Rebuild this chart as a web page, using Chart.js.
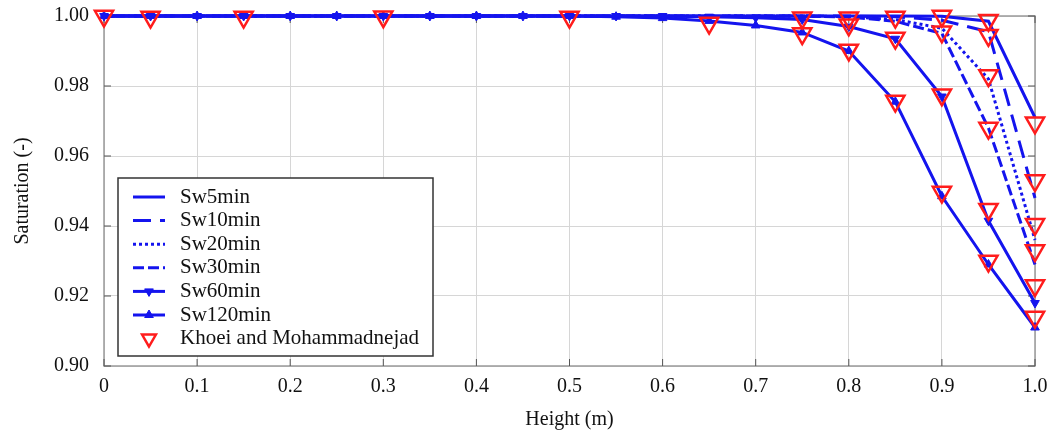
<!DOCTYPE html>
<html>
<head>
<meta charset="utf-8">
<script src="https://cdn.jsdelivr.net/npm/chart.js@4"></script>
<style>
  html, body { margin: 0; padding: 0; background: #fff; }
  #wrap { width: 1053px; height: 437px; }
</style>
</head>
<body>
<div id="wrap"><canvas id="satChart"></canvas></div>
<script>
// Altura (m) de los puntos del modelo
const heights = [0, 0.05, 0.1, 0.15, 0.2, 0.25, 0.3, 0.35, 0.4, 0.45, 0.5,
                 0.55, 0.6, 0.65, 0.7, 0.75, 0.8, 0.85, 0.9, 0.95, 1.0];

// Saturación simulada para cada tiempo
const sw5min   = [1, 1, 1, 1, 1, 1, 1, 1, 1, 1, 1, 1, 1, 1, 1, 1, 1, 1, 0.9999, 0.9985, 0.971];
const sw10min  = [1, 1, 1, 1, 1, 1, 1, 1, 1, 1, 1, 1, 1, 1, 1, 1, 1, 0.9998, 0.9988, 0.9955, 0.948];
const sw20min  = [1, 1, 1, 1, 1, 1, 1, 1, 1, 1, 1, 1, 1, 1, 1, 1, 0.9998, 0.999, 0.9965, 0.982, 0.936];
const sw30min  = [1, 1, 1, 1, 1, 1, 1, 1, 1, 1, 1, 1, 1, 1, 1, 1, 0.9997, 0.9985, 0.995, 0.968, 0.929];
const sw60min  = [1, 1, 1, 1, 1, 1, 1, 1, 1, 1, 1, 1, 1, 0.9998, 0.9995, 0.999, 0.997, 0.9935, 0.977, 0.9415, 0.918];
const sw120min = [1, 1, 1, 1, 1, 1, 1, 1, 1, 1, 1, 0.9998, 0.9994, 0.9986, 0.9973, 0.9953, 0.990, 0.9755, 0.9485, 0.929, 0.911];

// Datos de referencia (Khoei and Mohammadnejad)
const khoeiX = [0, 0.05, 0.15, 0.3, 0.5, 0.65, 0.75, 0.75, 0.8, 0.8, 0.8,
                0.85, 0.85, 0.85, 0.9, 0.9, 0.9, 0.9,
                0.95, 0.95, 0.95, 0.95, 0.95, 0.95,
                1.0, 1.0, 1.0, 1.0, 1.0, 1.0];
const khoeiY = [1.0, 0.9997, 0.9997, 0.9998, 0.9997, 0.998, 0.9995, 0.995, 0.9995, 0.9975, 0.9903,
                0.9997, 0.9937, 0.9757, 1.0, 0.9955, 0.9775, 0.9497,
                0.9988, 0.9945, 0.983, 0.968, 0.9448, 0.930,
                0.9695, 0.953, 0.9405, 0.933, 0.923, 0.914];

// Etiquetas
const seriesNames = ['Sw5min', 'Sw10min', 'Sw20min', 'Sw30min', 'Sw60min', 'Sw120min'];
const refName = 'Khoei and Mohammadnejad';
const xTitle = 'Height (m)';
const yTitle = 'Saturation (-)';

const BLUE = '#1414ee';
const RED = '#ff1c1c';
const FONT = 'Liberation Serif, Times New Roman, serif';

const toPts = (ys) => ys.map((y, i) => ({ x: heights[i], y: y }));

function modelSet(name, ys, dash, marker, rot) {
  return {
    label: name,
    data: toPts(ys),
    showLine: true,
    borderColor: BLUE,
    backgroundColor: BLUE,
    borderWidth: 3,
    borderDash: dash,
    pointStyle: marker || 'circle',
    pointRotation: rot || 0,
    pointRadius: marker ? 5 : 0,
    pointBorderWidth: 1,
    clip: false,
    order: 2
  };
}

const datasets = [
  modelSet(seriesNames[0], sw5min, []),
  modelSet(seriesNames[1], sw10min, [18, 9]),
  modelSet(seriesNames[2], sw20min, [3, 3]),
  modelSet(seriesNames[3], sw30min, [11, 4]),
  modelSet(seriesNames[4], sw60min, [], 'triangle', 180),
  modelSet(seriesNames[5], sw120min, [], 'triangle', 0),
  {
    label: refName,
    data: khoeiX.map((x, i) => ({ x: x, y: khoeiY[i] })),
    showLine: false,
    borderColor: RED,
    backgroundColor: 'rgba(0,0,0,0)',
    pointStyle: 'triangle',
    pointRotation: 180,
    pointRadius: 10.5,
    pointBorderWidth: 2.5,
    clip: false,
    order: 1
  }
];

// Marco, marcas interiores y leyenda dentro del área
const marcoPlugin = {
  id: 'marco',
  beforeDatasetsDraw(chart) {
    const { ctx, chartArea: a, scales } = chart;
    ctx.save();
    ctx.strokeStyle = '#9a9a9a';
    ctx.lineWidth = 1.5;
    ctx.strokeRect(a.left, a.top, a.right - a.left, a.bottom - a.top);
    ctx.strokeStyle = '#555';
    ctx.lineWidth = 1;
    ctx.beginPath();
    scales.x.ticks.forEach((t) => {
      const px = scales.x.getPixelForValue(t.value);
      ctx.moveTo(px, a.bottom); ctx.lineTo(px, a.bottom - 7);
      ctx.moveTo(px, a.top); ctx.lineTo(px, a.top + 7);
    });
    scales.y.ticks.forEach((t) => {
      const py = scales.y.getPixelForValue(t.value);
      ctx.moveTo(a.left, py); ctx.lineTo(a.left + 7, py);
      ctx.moveTo(a.right, py); ctx.lineTo(a.right - 7, py);
    });
    ctx.stroke();
    ctx.restore();
  },
  afterDraw(chart) {
    const { ctx } = chart;
    const box = { x: 118, y: 178, w: 315, h: 178 };
    ctx.save();
    ctx.fillStyle = '#fff';
    ctx.fillRect(box.x, box.y, box.w, box.h);
    ctx.strokeStyle = '#333';
    ctx.lineWidth = 1.5;
    ctx.strokeRect(box.x, box.y, box.w, box.h);
    ctx.font = '21px ' + FONT;
    ctx.textBaseline = 'middle';
    chart.data.datasets.forEach((ds, i) => {
      const y = box.y + 19 + i * 23.6;
      if (ds.showLine) {
        ctx.strokeStyle = ds.borderColor;
        ctx.lineWidth = ds.borderWidth;
        ctx.setLineDash(ds.borderDash);
        ctx.beginPath();
        ctx.moveTo(133, y);
        ctx.lineTo(165, y);
        ctx.stroke();
        ctx.setLineDash([]);
      }
      if (ds.pointRadius > 0) {
        const r = ds.showLine ? ds.pointRadius : 8;
        const rad = ds.pointRotation * Math.PI / 180;
        ctx.strokeStyle = ds.borderColor;
        ctx.fillStyle = ds.backgroundColor;
        ctx.lineWidth = ds.pointBorderWidth;
        ctx.beginPath();
        for (let k = 0; k < 3; k++) {
          const ang = rad - Math.PI / 2 + k * 2 * Math.PI / 3;
          const px = 149 + Math.cos(ang) * r, py = y + Math.sin(ang) * r;
          if (k === 0) ctx.moveTo(px, py); else ctx.lineTo(px, py);
        }
        ctx.closePath();
        ctx.fill();
        ctx.stroke();
      }
      ctx.fillStyle = '#111';
      ctx.fillText(ds.label, 180, y);
    });
    ctx.restore();
  }
};

const chart = new Chart(document.getElementById('satChart').getContext('2d'), {
  type: 'scatter',
  data: { datasets: datasets },
  options: {
    responsive: true,
    maintainAspectRatio: false,
    animation: false,
    layout: { padding: { top: 16, right: 18, left: 0, bottom: 0 } },
    plugins: { legend: { display: false }, tooltip: { enabled: false } },
    scales: {
      x: {
        type: 'linear',
        min: 0, max: 1,
        afterFit: (s) => { s.height = 71; s.paddingLeft = 0; s.paddingRight = 0; },
        grid: { color: '#d6d6d6', drawTicks: false },
        border: { display: false },
        ticks: {
          stepSize: 0.1,
          padding: 9,
          color: '#111',
          font: { family: FONT, size: 20 },
          callback: (v) => (v === 0 ? '0' : Number(v).toFixed(1))
        },
        title: { display: true, text: xTitle, color: '#111', font: { family: FONT, size: 20 }, padding: { top: 4, bottom: 5 } }
      },
      y: {
        min: 0.9, max: 1.0,
        afterFit: (s) => { s.width = 104; s.paddingTop = 0; s.paddingBottom = 0; },
        grid: { color: '#d6d6d6', drawTicks: false },
        border: { display: false },
        ticks: {
          stepSize: 0.02,
          padding: 15,
          color: '#111',
          font: { family: FONT, size: 20 },
          callback: (v) => Number(v).toFixed(2)
        },
        title: { display: true, text: yTitle, color: '#111', font: { family: FONT, size: 20 }, padding: { top: 11, bottom: 4 } }
      }
    }
  },
  plugins: [marcoPlugin]
});
</script>
</body>
</html>
